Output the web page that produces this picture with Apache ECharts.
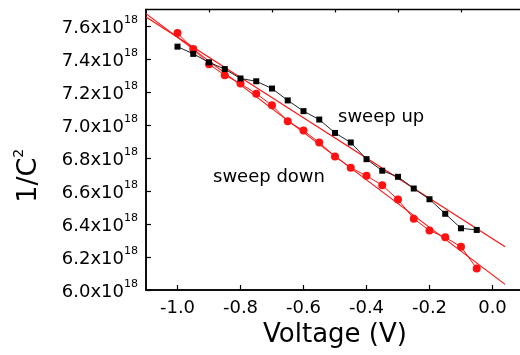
<!DOCTYPE html>
<html>
<head>
<meta charset="utf-8">
<script src="https://cdn.jsdelivr.net/npm/echarts@6/dist/echarts.min.js"></script>
<style>
  html, body { margin: 0; padding: 0; background: #fff; overflow: hidden; }
  /* a little wider than the window so the plot frame runs off the right edge */
  #chart { width: 524px; height: 355px; }
</style>
</head>
<body>
<div id="chart"></div>
<script>
const voltage = [-1.0, -0.95, -0.9, -0.85, -0.8, -0.75, -0.7, -0.65, -0.6, -0.55,
  -0.5, -0.45, -0.4, -0.35, -0.3, -0.25, -0.2, -0.15, -0.1, -0.05];
const sweepUp = [7.475, 7.431, 7.38, 7.339, 7.282, 7.265, 7.221, 7.149, 7.084, 7.033,
  6.952, 6.894, 6.793, 6.723, 6.686, 6.615, 6.55, 6.462, 6.374, 6.364];
const sweepDown = [7.557, 7.461, 7.368, 7.302, 7.251, 7.19, 7.119, 7.023, 6.966, 6.894,
  6.809, 6.741, 6.692, 6.635, 6.548, 6.432, 6.36, 6.319, 6.262, 6.13];
// linear fits, drawn across the plot
const fitX = [-1.1, 0.04];
const fitUp = [7.655, 6.262];
const fitDown = [7.675, 6.034];

const xTicks = [-1.0, -0.8, -0.6, -0.4, -0.2, 0.0];
const xMinorTicks = [-0.9, -0.7, -0.5, -0.3, -0.1];
const yTicks = [6.0, 6.2, 6.4, 6.6, 6.8, 7.0, 7.2, 7.4, 7.6];
const yMinorTicks = [6.1, 6.3, 6.5, 6.7, 6.9, 7.1, 7.3, 7.5, 7.7];

const font = "DejaVu Sans";
const red = "#ff1111";

const pairs = (xs, ys) => xs.map((x, i) => [x, ys[i]]);

const chart = echarts.init(document.getElementById("chart"), null, { renderer: "canvas" });

const xBase = { type: "value", min: -1.1, max: 0.1, gridIndex: 0, splitLine: { show: false } };
const yBase = { type: "value", min: 6.0, max: 7.7, gridIndex: 0, splitLine: { show: false } };

chart.setOption({
  animation: false,
  backgroundColor: "#fff",
  grid: {
    left: 146,
    right: 0,
    top: 9.5,
    bottom: 65,
    show: true,
    borderColor: "#000",
    borderWidth: 1.5,
    backgroundColor: "transparent",
  },
  xAxis: [
    {
      ...xBase,
      name: "Voltage (V)",
      nameLocation: "middle",
      nameGap: 32,
      nameTextStyle: { fontFamily: font, fontSize: 26, color: "#000" },
      axisLine: { onZero: false, lineStyle: { color: "#000", width: 1.5 } },
      axisTick: { inside: true, length: 5, customValues: xTicks, lineStyle: { color: "#000", width: 1.2 } },
      axisLabel: {
        customValues: xTicks,
        margin: 9,
        fontFamily: font,
        fontSize: 18,
        color: "#000",
        formatter: (v) => v.toFixed(1),
      },
    },
    {
      ...xBase,
      axisLine: { show: false, onZero: false },
      axisTick: { inside: true, length: 3, customValues: xMinorTicks, lineStyle: { color: "#000", width: 1.2 } },
      axisLabel: { show: false },
    },
  ],
  yAxis: [
    {
      ...yBase,
      name: "{a|1/C}{b|2}",
      nameLocation: "middle",
      nameRotate: 90,
      nameGap: 100,
      nameTextStyle: {
        fontFamily: font,
        color: "#000",
        padding: [0, 52, 0, 0],
        rich: {
          a: { fontFamily: font, fontSize: 27, color: "#000", lineHeight: 34 },
          b: { fontFamily: font, fontSize: 14, color: "#000", verticalAlign: "top", lineHeight: 14 },
        },
      },
      axisLine: { onZero: false, lineStyle: { color: "#000", width: 1.5 } },
      axisTick: { inside: true, length: 5, customValues: yTicks, lineStyle: { color: "#000", width: 1.2 } },
      axisLabel: {
        customValues: yTicks,
        margin: 8,
        formatter: (v) => "{m|" + v.toFixed(1) + "x10}{s|18}",
        rich: {
          m: { fontFamily: font, fontSize: 18, color: "#000", lineHeight: 22, padding: [4, 0, 0, 0] },
          s: { fontFamily: font, fontSize: 11, color: "#000", verticalAlign: "top", lineHeight: 11 },
        },
      },
    },
    {
      ...yBase,
      axisLine: { show: false, onZero: false },
      axisTick: { inside: true, length: 3, customValues: yMinorTicks, lineStyle: { color: "#000", width: 1.2 } },
      axisLabel: { show: false },
    },
  ],
  graphic: [
    {
      type: "text",
      left: 338,
      top: 108,
      style: { text: "sweep up", fontFamily: font, fontSize: 18, fill: "#000" },
    },
    {
      type: "text",
      left: 213,
      top: 168,
      style: { text: "sweep down", fontFamily: font, fontSize: 18, fill: "#000" },
    },
  ],
  series: [
    {
      name: "fit up",
      type: "line",
      data: pairs(fitX, fitUp),
      symbol: "none",
      lineStyle: { color: red, width: 1.2 },
      z: 1,
    },
    {
      name: "fit down",
      type: "line",
      data: pairs(fitX, fitDown),
      symbol: "none",
      lineStyle: { color: red, width: 1.2 },
      z: 1,
    },
    {
      name: "sweep up",
      type: "line",
      data: pairs(voltage, sweepUp),
      symbol: "rect",
      symbolSize: 6,
      itemStyle: { color: "#000" },
      lineStyle: { color: "#222", width: 1 },
      z: 3,
    },
    {
      name: "sweep down",
      type: "line",
      data: pairs(voltage, sweepDown),
      symbol: "circle",
      symbolSize: 8,
      itemStyle: { color: red },
      lineStyle: { color: red, width: 1 },
      z: 2,
    },
  ],
});
</script>
</body>
</html>
